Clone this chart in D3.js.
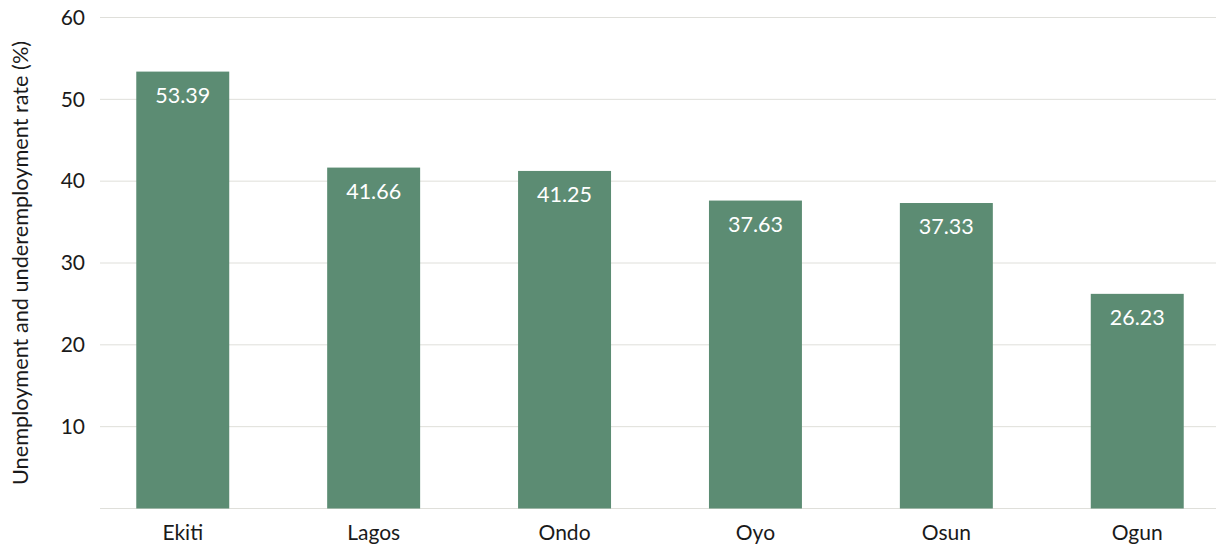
<!DOCTYPE html>
<html>
<head>
<meta charset="utf-8">
<script src="https://cdn.jsdelivr.net/npm/d3@7"></script>
<style>
  html, body { margin: 0; padding: 0; background: #ffffff; }
  svg { display: block; font-family: Lato, "Open Sans", sans-serif; }
</style>
</head>
<body>
<svg id="chart" width="1216" height="548"></svg>
<script>
const categories = ["Ekiti", "Lagos", "Ondo", "Oyo", "Osun", "Ogun"];
const values = [53.39, 41.66, 41.25, 37.63, 37.33, 26.23];
const yTicks = [10, 20, 30, 40, 50, 60];
const yTitle = "Unemployment and underemployment rate (%)";

const svg = d3.select("#chart");
const margin = { left: 100, right: 0, top: 17.5, bottom: 39.5 };
const W = 1216, H = 548;

const x = d3.scaleBand()
  .domain(categories)
  .range([margin.left, 1220])
  .paddingInner(0.513)
  .paddingOuter(0.19);

const y = d3.scaleLinear()
  .domain([0, 60])
  .range([H - margin.bottom, margin.top]);

// gridlines + baseline
svg.append("g")
  .selectAll("line")
  .data([0].concat(yTicks))
  .join("line")
  .attr("x1", margin.left)
  .attr("x2", W)
  .attr("y1", d => y(d))
  .attr("y2", d => y(d))
  .attr("stroke", "#dfdfda")
  .attr("stroke-width", 1);

// y axis tick labels
const yAxis = d3.axisLeft(y).tickValues(yTicks).tickSize(0).tickPadding(15);
const gy = svg.append("g").attr("transform", `translate(${margin.left},0)`).call(yAxis);
gy.select(".domain").remove();
gy.selectAll("text")
  .attr("font-family", "Lato, sans-serif")
  .attr("font-size", 21)
  .attr("fill", "#1a1a1a");

// x axis labels
const xAxis = d3.axisBottom(x).tickSize(0).tickPadding(17);
const gx = svg.append("g").attr("transform", `translate(0,${y(0)})`).call(xAxis);
gx.select(".domain").remove();
gx.selectAll("text")
  .attr("font-family", "Lato, sans-serif")
  .attr("font-size", 21)
  .attr("fill", "#1a1a1a");

// bars
svg.append("g")
  .selectAll("rect")
  .data(values)
  .join("rect")
  .attr("x", (d, i) => x(categories[i]))
  .attr("width", x.bandwidth())
  .attr("y", d => y(d))
  .attr("height", d => y(0) - y(d))
  .attr("fill", "#5c8c73");

// value labels
svg.append("g")
  .selectAll("text")
  .data(values)
  .join("text")
  .attr("x", (d, i) => x(categories[i]) + x.bandwidth() / 2)
  .attr("y", d => y(d) + 31)
  .attr("text-anchor", "middle")
  .attr("font-family", "Lato, sans-serif")
  .attr("font-size", 21.5)
  .attr("fill", "#ffffff")
  .text(d => d.toFixed(2));

// y title
svg.append("text")
  .attr("transform", `translate(28,${(y(0) + y(60)) / 2}) rotate(-90)`)
  .attr("text-anchor", "middle")
  .attr("font-family", "Lato, sans-serif")
  .attr("font-size", 21.7)
  .attr("fill", "#1a1a1a")
  .text(yTitle);
</script>
</body>
</html>
